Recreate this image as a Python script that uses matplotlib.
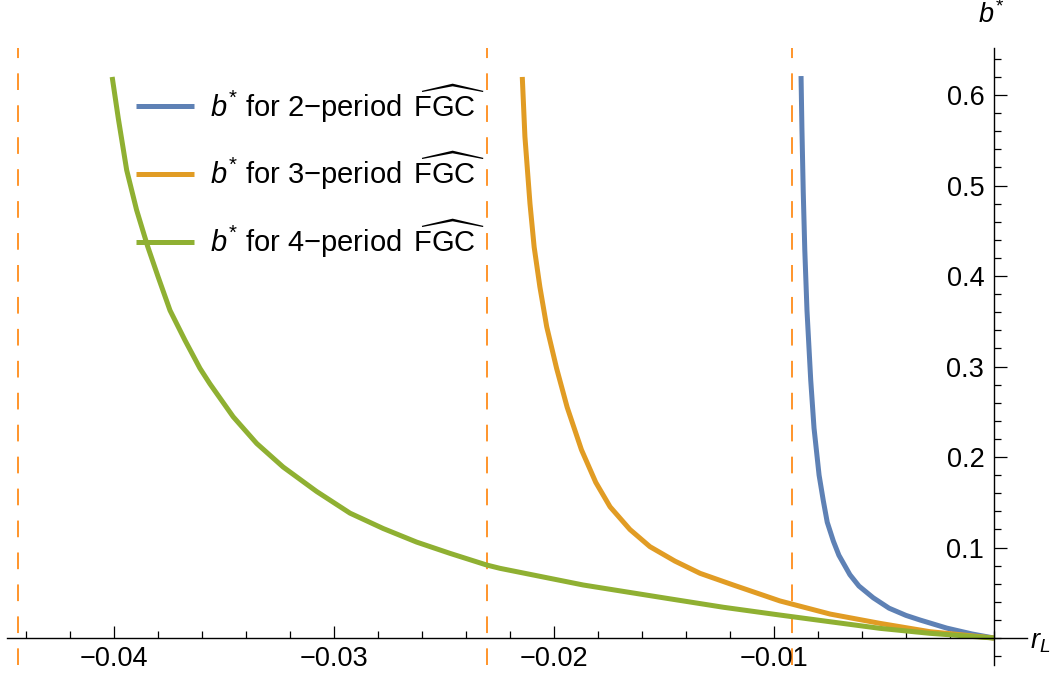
import matplotlib
matplotlib.use("Agg")
import matplotlib.pyplot as plt
from matplotlib.ticker import FixedLocator, MultipleLocator, NullFormatter

plt.rcParams['font.family'] = ['Liberation Sans', 'DejaVu Sans']
plt.rcParams['mathtext.fontset'] = 'custom'
plt.rcParams['mathtext.rm'] = 'Liberation Sans'
plt.rcParams['mathtext.it'] = 'Liberation Sans:italic'
plt.rcParams['lines.scale_dashes'] = False

# curves (r_L, b*)
x2 = [-0.00877, -0.00873, -0.00867, -0.00860, -0.00850, -0.00833, -0.00818,
      -0.00795, -0.00776, -0.00758, -0.00730, -0.00705, -0.00655, -0.00614,
      -0.00549, -0.00477, -0.00400, -0.00336, -0.00215, -0.00100, 0.0]
y2 = [0.621, 0.563, 0.493, 0.429, 0.362, 0.285, 0.232,
      0.180, 0.152, 0.128, 0.107, 0.0915, 0.0700, 0.0575,
      0.0445, 0.0330, 0.0250, 0.0199, 0.0110, 0.0045, 0.0]

x3 = [-0.02144, -0.02132, -0.02109, -0.02090, -0.02064, -0.02033, -0.01988,
      -0.01940, -0.01875, -0.01810, -0.01745, -0.01655, -0.01564, -0.01450,
      -0.01336, -0.01185, -0.00973, -0.00745, -0.00518, -0.00291, 0.0]
y3 = [0.620, 0.554, 0.480, 0.432, 0.388, 0.344, 0.298,
      0.255, 0.208, 0.172, 0.145, 0.120, 0.101, 0.085,
      0.0715, 0.0586, 0.0410, 0.0265, 0.0162, 0.0070, 0.0]

x4 = [-0.04008, -0.03980, -0.03942, -0.03897, -0.03847, -0.03799, -0.03745,
      -0.03677, -0.03609, -0.03564, -0.03458, -0.03351, -0.03231, -0.03079,
      -0.02927, -0.02776, -0.02624, -0.02473, -0.02306, -0.02245, -0.01867,
      -0.01488, -0.01230, -0.00973, -0.00745, -0.00518, -0.00291, 0.0]
y4 = [0.620, 0.574, 0.517, 0.473, 0.433, 0.399, 0.362,
      0.329, 0.298, 0.281, 0.2445, 0.215, 0.189, 0.162,
      0.138, 0.121, 0.106, 0.0936, 0.0807, 0.0770, 0.0586,
      0.0439, 0.0340, 0.0254, 0.0180, 0.0107, 0.0052, 0.0]

asymptotes = [-0.04436, -0.02305, -0.00918]

labels = [r"$b^{*}$ for 2−period $\,\widehat{\mathrm{FGC}}$",
          r"$b^{*}$ for 3−period $\,\widehat{\mathrm{FGC}}$",
          r"$b^{*}$ for 4−period $\,\widehat{\mathrm{FGC}}$"]
colors = ['#5E81B5', '#E19C24', '#8FB032']

xticks = [-0.04, -0.03, -0.02, -0.01]
xticklabels = ['−0.04', '−0.03', '−0.02', '−0.01']
yticks = [0.1, 0.2, 0.3, 0.4, 0.5, 0.6]
yticklabels = ['0.1', '0.2', '0.3', '0.4', '0.5', '0.6']

FS = 19.5      # tick labels, axis labels
LFS = 21       # legend
W, H = 1060, 675
fig = plt.figure(figsize=(W / 100, H / 100), dpi=100)
# axes box in pixels: left 7, right 1027, top 48, bottom 665
ax = fig.add_axes([7 / W, (H - 665) / H, 1020 / W, 617 / H])
ax.set_xlim(-0.04486, 0.0015)
ax.set_ylim(-0.0298, 0.652)

for xa in asymptotes:
    ax.axvline(xa, color='#FF8C1A', lw=1.3, dashes=(12, 11), zorder=1)

for xs, ys, c, lab in zip([x2, x3, x4], [y2, y3, y4], colors, labels):
    ax.plot(xs, ys, color=c, lw=3.6, label=lab, solid_capstyle='butt',
            solid_joinstyle='round', zorder=3)

# axes through the origin
for s in ['top', 'right']:
    ax.spines[s].set_visible(False)
ax.spines['left'].set_position(('data', 0))
ax.spines['bottom'].set_position(('data', 0))
for s in ['left', 'bottom']:
    ax.spines[s].set_linewidth(1.0)
    ax.spines[s].set_zorder(4)

ax.xaxis.set_major_locator(FixedLocator(xticks))
ax.set_xticklabels(xticklabels)
ax.xaxis.set_minor_locator(MultipleLocator(0.002))
ax.yaxis.set_major_locator(FixedLocator(yticks))
ax.set_yticklabels(yticklabels)
ax.yaxis.set_minor_locator(MultipleLocator(0.02))
ax.xaxis.set_minor_formatter(NullFormatter())
ax.yaxis.set_minor_formatter(NullFormatter())

ax.tick_params(which='major', direction='in', length=9, width=0.9, labelsize=FS)
ax.tick_params(which='minor', direction='in', length=5, width=0.9)
ax.tick_params(axis='x', which='major', pad=6)
ax.tick_params(axis='y', which='major', pad=7)

ax.annotate(r"$b^{*}$", xy=(0, 1), xycoords=('data', 'axes fraction'),
            xytext=(-2, 14), textcoords='offset points', ha='center',
            va='bottom', fontsize=FS)
ax.annotate(r"$r_{L}$", xy=(1, 0), xycoords=('axes fraction', 'data'),
            xytext=(2, -3), textcoords='offset points', ha='left',
            va='center', fontsize=FS)

ax.legend(loc='upper left', bbox_to_anchor=(117 / 1020, (665 - 71) / 617),
          frameon=False, fontsize=LFS, handlelength=2.0, handletextpad=0.55,
          labelspacing=0.88, borderaxespad=0)

fig.savefig('out.png', dpi=100)
